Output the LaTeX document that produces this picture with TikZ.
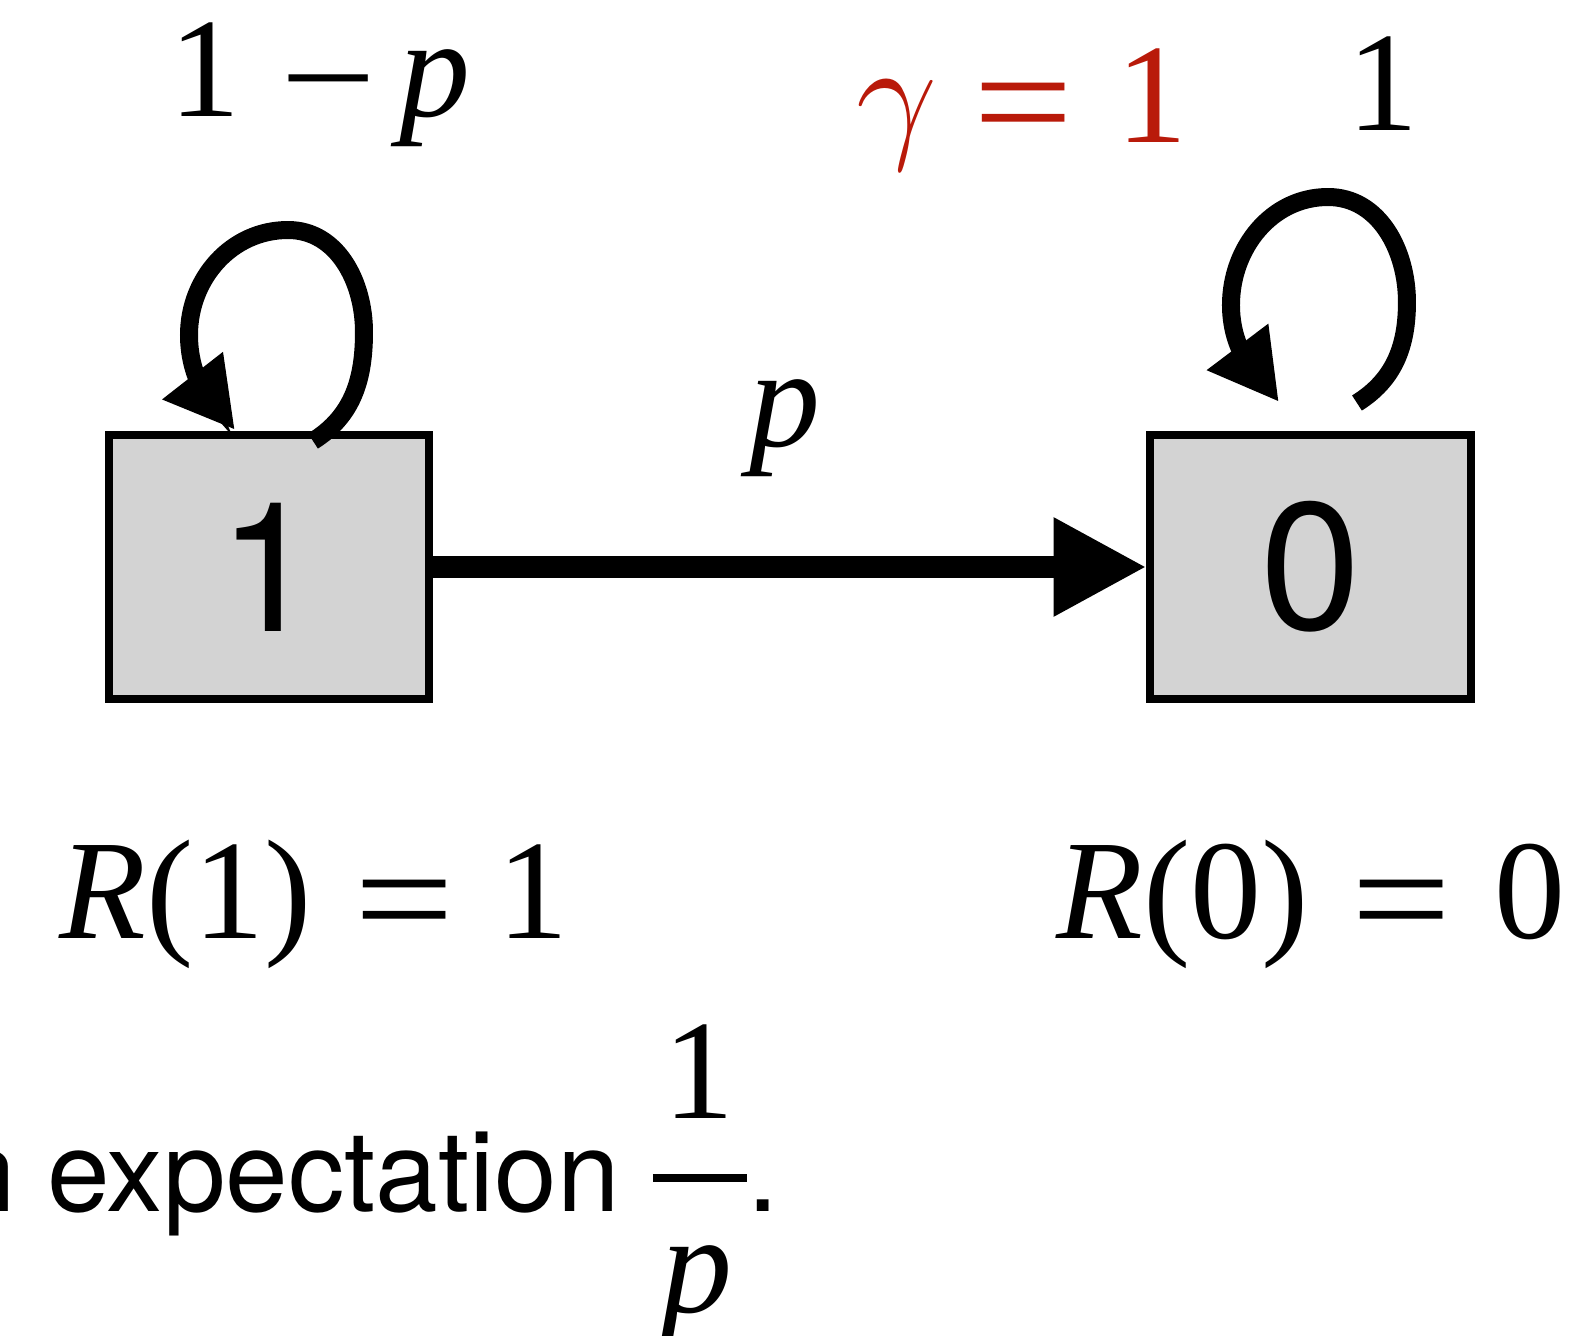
\documentclass[tikz,border=0pt]{standalone}
\usepackage{fontspec}
\usepackage{graphicx}
\setmainfont{Liberation Serif}
\setsansfont{TeX Gyre Heros}
\usetikzlibrary{arrows.meta}
\definecolor{boxgray}{RGB}{211,211,211}
\definecolor{gred}{RGB}{185,26,10}
\newcommand{\serifbig}{\fontsize{14.2}{17}\selectfont}
\newcommand{\sansmid}{\sffamily\fontsize{11.26}{14}\selectfont}
\newcommand{\sansbig}{\sffamily\fontsize{18.1}{21}\selectfont}
\newcommand{\myeq}{\scalebox{1.25}[1.1]{\raisebox{-1.15pt}{=}}}
\newcommand{\mymin}{\scalebox{1.2}[1]{\raisebox{-0.9pt}{−}}}
\begin{document}
\begin{tikzpicture}[x=0.1pt,y=0.1pt,
  statebox/.style={draw, line width=0.8pt, fill=boxgray, minimum width=32.1pt, minimum height=26.5pt, inner sep=0pt, font=\sansbig},
  lbl/.style={inner sep=0pt, anchor=base, font=\serifbig},
  loopline/.style={line width=1.8pt, -{Triangle[length=6.9pt,width=7.2pt]}},
  mainarrow/.style={line width=2.2pt, -{Triangle[length=9.3pt,width=9.3pt]}}]
\useasboundingbox (0,0) rectangle (1588,-1336);
\clip (0,0) rectangle (1588,-1336);

\node[statebox] (b1) at (269,-567) {1};
\node[statebox] (b0) at (1311,-567) {0};

\draw[mainarrow] (b1.east) -- (b0.west);
\node[lbl] (lp) at (785,-446) {\textit{p}};

\coordinate (s1) at (313,-441);
\coordinate (t1) at (235,-430);
\draw[loopline] (s1) to[out=32,in=-90] (364,-332) to[out=90,in=0] (288,-230)
  to[out=180,in=90] (189,-335) to[out=-90,in=128] (t1);

\coordinate (s0) at (1357,-403);
\coordinate (t0) at (1279,-402);
\draw[loopline] (s0) to[out=32,in=-90] (1407,-302) to[out=90,in=0] (1328,-197)
  to[out=180,in=90] (1231,-305) to[out=-90,in=127] (t0);

\node[lbl] (l1) at (320,-116) {1\hspace{4.0pt}\mymin\hspace{2.2pt}\textit{p}};
\node[lbl, text=gred] (lg) at (1022,-142) {$\gamma$\hspace{3.6pt}\myeq\hspace{4.3pt}1};
\node[lbl] (l0) at (1383,-130) {1};

\node[lbl] (r1) at (314,-939) {\textit{R}(1)\hspace{4.2pt}\myeq\hspace{4.3pt}1};
\node[lbl] (r0) at (1311,-939) {\textit{R}(0)\hspace{4.2pt}\myeq\hspace{4.3pt}0};

\node[inner sep=0pt, anchor=base east, font=\sansmid] (ex) at (622,-1212) {n expectation};
\node[lbl] (fn) at (699,-1118) {1};
\draw[line width=0.8pt] (653,-1178) -- (747,-1178);
\node[lbl] (fd) at (697,-1313) {\textit{p}};
\node[inner sep=0pt, anchor=base west, font=\sansmid] (dot) at (746,-1212) {.};
\end{tikzpicture}
\end{document}
